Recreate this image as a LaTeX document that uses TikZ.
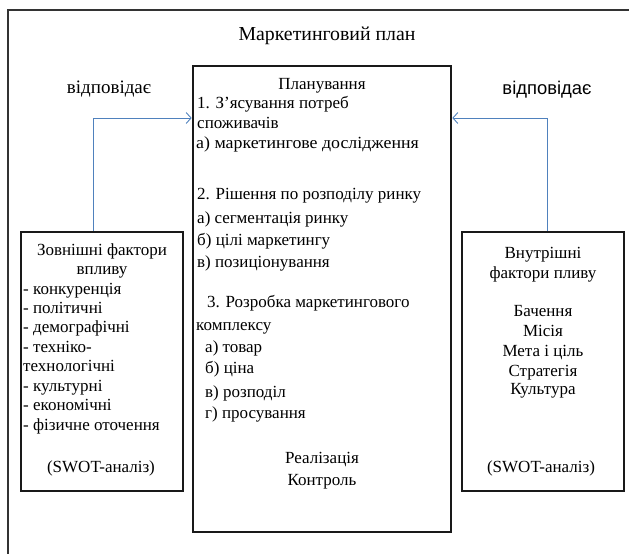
\documentclass[tikz,border=0pt]{standalone}
\usepackage{fontspec}
\setmainfont{Liberation Serif}
\newfontfamily\sansfam{Liberation Sans}
\newfontfamily\widefam[FakeStretch=1.05]{Liberation Serif}
\usetikzlibrary{arrows.meta}
\definecolor{linkblue}{HTML}{4F81BD}
\tikzset{
  frameline/.style={draw=black!80, line width=1.6pt},
  boxnode/.style={draw=black!90, line width=2.6pt, inner sep=0pt, rectangle},
  txt/.style={inner sep=0pt, font=\fontsize{17}{20}\selectfont},
  tl/.style={txt, anchor=base west},
  tc/.style={txt, anchor=base},
  link/.style={draw=linkblue, line width=0.9pt, -{Straight Barb[length=5pt,width=11pt]}},
}
\begin{document}
\begin{tikzpicture}[x=1pt,y=-1pt]
\useasboundingbox (0,0) rectangle (629,554);
% outer frame (only top and left visible)
\draw[frameline] (8,560) -- (8,10) -- (640,10);
% title
\node[tc, font=\fontsize{19.8}{23}\selectfont] (title) at (327,40) {Маркетинговий план};
% boxes
\node[boxnode, minimum width=258pt, minimum height=466pt] (center) at (322,299) {};
\node[boxnode, minimum width=162pt, minimum height=259pt] (left) at (102,361.5) {};
\node[boxnode, minimum width=162pt, minimum height=259pt] (right) at (543,361.5) {};
% labels
\node[tc, font=\fontsize{19}{22}\selectfont] (respL) at (109,93) {відповідає};
\node[tc, font=\sansfam\fontsize{18.4}{21}\selectfont] (respR) at (547,94) {відповідає};
% connectors
\coordinate (yl) at (0,118);
\draw[link] ([xshift=-9pt]left.north) |- (center.west |- yl);
\draw[link] ([xshift=4pt]right.north) |- (center.east |- yl);
% center text
\node[tc] (c0) at (322,89) {Планування};
\node[tl] (c1) at (197,108) {1. З’ясування потреб};
\node[tl] (c2) at (197,128) {споживачів};
\node[tl, font=\widefam\fontsize{17}{20}\selectfont] (c3) at (196,148) {а) маркетингове дослідження};
\node[tl] (c4) at (197,199) {2. Рішення по розподілу ринку};
\node[tl] (c5) at (197,223) {а) сегментація ринку};
\node[tl] (c6) at (197,245) {б) цілі маркетингу};
\node[tl] (c7) at (197,267) {в) позиціонування};
\node[tl] (c8) at (207,307) {3. Розробка маркетингового};
\node[tl] (c9) at (196,330) {комплексу};
\node[tl] (c10) at (205,352) {а) товар};
\node[tl] (c11) at (205,373) {б) ціна};
\node[tl] (c12) at (205,397) {в) розподіл};
\node[tl] (c13) at (205,418) {г) просування};
\node[tc] (c14) at (322,463) {Реалізація};
\node[tc] (c15) at (322,485) {Контроль};
% left text
\node[tc] (l0) at (102,255) {Зовнішні фактори};
\node[tc] (l1) at (102,274) {впливу};
\node[tl] (l2) at (23,294) {- конкуренція};
\node[tl] (l3) at (23,313) {- політичні};
\node[tl] (l4) at (23,332) {- демографічні};
\node[tl] (l5) at (23,352) {- техніко-};
\node[tl] (l6) at (23,371) {технологічні};
\node[tl] (l7) at (23,391) {- культурні};
\node[tl] (l8) at (23,410) {- економічні};
\node[tl] (l9) at (23,430) {- фізичне оточення};
\node[tc] (l10) at (101,472) {(SWOT-аналіз)};
% right text
\node[tc] (r0) at (543,258) {Внутрішні};
\node[tc] (r1) at (543,278) {фактори пливу};
\node[tc] (r2) at (543,316) {Бачення};
\node[tc] (r3) at (543,336) {Місія};
\node[tc] (r4) at (543,356) {Мета і ціль};
\node[tc] (r5) at (543,376) {Стратегія};
\node[tc] (r6) at (543,394) {Культура};
\node[tc] (r7) at (541,472) {(SWOT-аналіз)};
\end{tikzpicture}
\end{document}
